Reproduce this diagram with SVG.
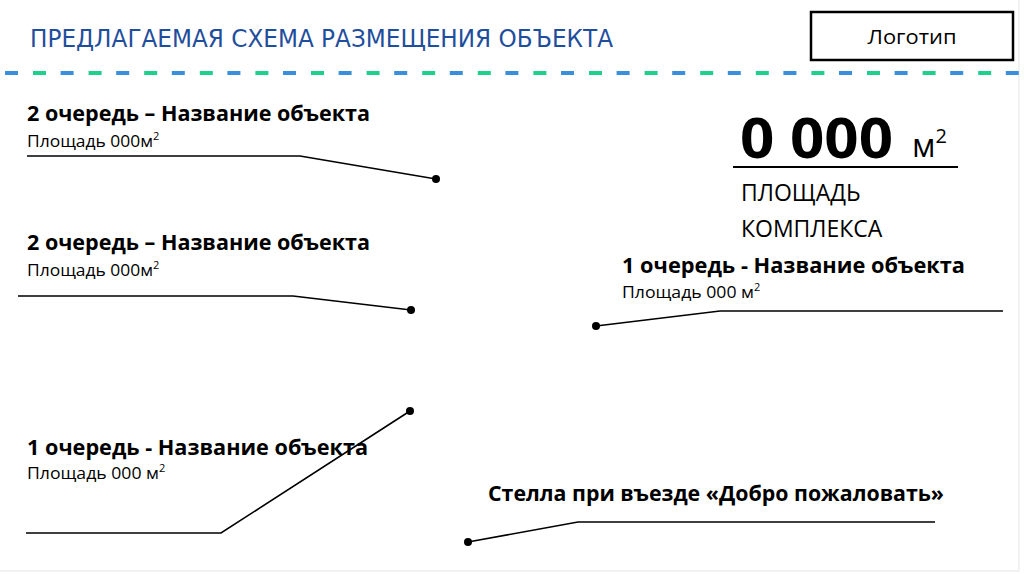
<svg xmlns="http://www.w3.org/2000/svg" width="1024" height="574" viewBox="0 0 1024 574">
<defs>
<style>
.t{font-family:"Open Sans","Noto Sans","DejaVu Sans",sans-serif;fill:#000}
.h{font-weight:bold;font-size:21.5px}
.s{font-size:17px}
.ln{fill:none;stroke:#000;stroke-width:1.6}
.dot{fill:#000}
</style>
</defs>
<rect x="0" y="0" width="1024" height="574" fill="#fff"/>
<line x1="1019" y1="0" x2="1019" y2="571" stroke="#eeeeee" stroke-width="1.5"/>
<line x1="0" y1="571" x2="1019" y2="571" stroke="#eeeeee" stroke-width="1.5"/>
<g id="header">
<text x="30" y="47" font-family="'DejaVu Sans Condensed','Liberation Sans Narrow','Open Sans',sans-serif" font-size="25" fill="#1f4e9c" textLength="583" lengthAdjust="spacingAndGlyphs">ПРЕДЛАГАЕМАЯ СХЕМА РАЗМЕЩЕНИЯ ОБЪЕКТА</text>
<line x1="5" y1="73" x2="1024" y2="73" stroke="#3a8fdc" stroke-width="4" stroke-dasharray="13 42.6"/>
<line x1="33" y1="73" x2="1024" y2="73" stroke="#1fcf8c" stroke-width="4" stroke-dasharray="13 42.6"/>
</g>
<g id="logo">
<rect x="811" y="12" width="202" height="48" fill="#fff" stroke="#000" stroke-width="2.5"/>
<text class="t" x="912" y="44" font-size="20" text-anchor="middle" textLength="89" lengthAdjust="spacingAndGlyphs">Логотип</text>
</g>
<g id="node-2a">
<text class="t h" x="27" y="121" textLength="343" lengthAdjust="spacingAndGlyphs">2 очередь – Название объекта</text>
<text class="t s" x="27" y="147"><tspan textLength="126" lengthAdjust="spacingAndGlyphs">Площадь 000м</tspan><tspan font-size="11" dy="-7">2</tspan></text>
</g>
<g id="node-2b">
<text class="t h" x="27" y="250" textLength="343" lengthAdjust="spacingAndGlyphs">2 очередь – Название объекта</text>
<text class="t s" x="27" y="276"><tspan textLength="126" lengthAdjust="spacingAndGlyphs">Площадь 000м</tspan><tspan font-size="11" dy="-7">2</tspan></text>
</g>
<g id="node-area">
<text class="t" x="740" y="158" font-size="56" font-weight="bold" textLength="153" lengthAdjust="spacingAndGlyphs">0 000</text>
<text class="t" x="912" y="157" font-size="32">м<tspan font-size="20" dy="-14">2</tspan></text>
<line x1="733" y1="167" x2="958" y2="167" stroke="#000" stroke-width="2"/>
<text class="t" x="741" y="201" font-size="23">ПЛОЩАДЬ</text>
<text class="t" x="741" y="237" font-size="23">КОМПЛЕКСА</text>
</g>
<g id="node-1a">
<text class="t h" x="622" y="273" textLength="343" lengthAdjust="spacingAndGlyphs">1 очередь - Название объекта</text>
<text class="t s" x="622" y="298"><tspan textLength="132" lengthAdjust="spacingAndGlyphs">Площадь 000 м</tspan><tspan font-size="11" dy="-7">2</tspan></text>
</g>
<g id="node-1b">
<text class="t h" x="27" y="455" textLength="341" lengthAdjust="spacingAndGlyphs">1 очередь - Название объекта</text>
<text class="t s" x="27" y="479"><tspan textLength="132" lengthAdjust="spacingAndGlyphs">Площадь 000 м</tspan><tspan font-size="11" dy="-7">2</tspan></text>
</g>
<g id="node-stella">
<text class="t h" x="488" y="501" textLength="456" lengthAdjust="spacingAndGlyphs">Стелла при въезде «Добро пожаловать»</text>
</g>
<g id="connectors">
<polyline class="ln" points="27,156 300,156 436,179"/>
<circle class="dot" cx="436" cy="179" r="4"/>
<polyline class="ln" points="18,296 293,296 411,310"/>
<circle class="dot" cx="411" cy="310" r="4"/>
<polyline class="ln" points="596,326 720,311 1003,311"/>
<circle class="dot" cx="596" cy="326" r="4"/>
<polyline class="ln" points="26,533 221,533 410,411"/>
<circle class="dot" cx="410" cy="411" r="4"/>
<polyline class="ln" points="468,542 578,522 935,522"/>
<circle class="dot" cx="468" cy="542" r="4"/>
</g>
</svg>
